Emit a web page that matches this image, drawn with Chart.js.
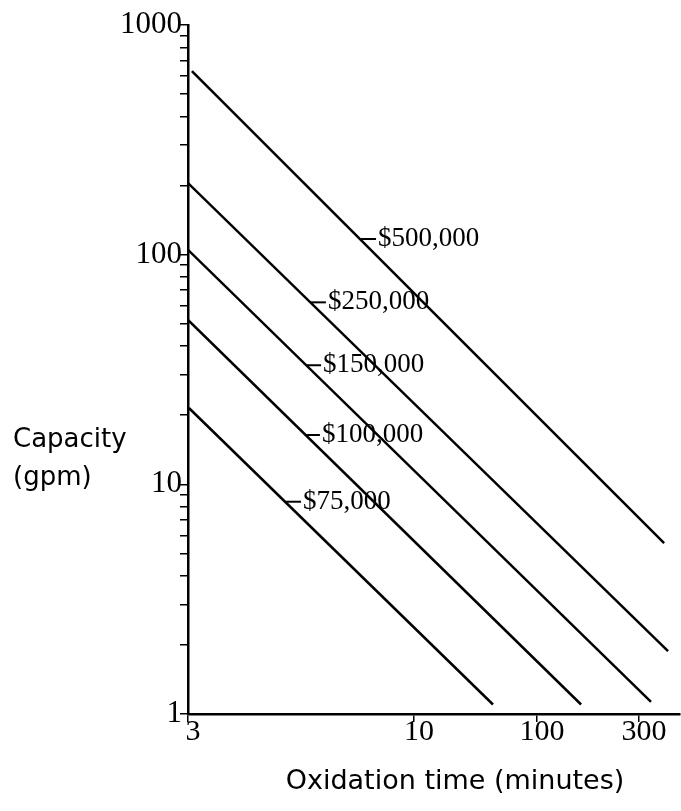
<!DOCTYPE html>
<html>
<head>
<meta charset="utf-8">
<script src="https://cdn.jsdelivr.net/npm/chart.js@4.4.1/dist/chart.umd.min.js"></script>
<style>
  html, body { margin: 0; padding: 0; background: #fff; }
  #wrap { width: 681px; height: 811px; }
</style>
</head>
<body>
<div id="wrap"><canvas id="costChart" width="681" height="811"></canvas></div>
<script>
// cost lines (x in axis units, y = capacity in gpm)
const costLabels = ["$500,000", "$250,000", "$150,000", "$100,000", "$75,000"];
const startX = [0.017, 0, 0, 0, 0.004];
const startCap = [630, 205, 105, 52, 21.5];
const endX = [2.07, 2.087, 2.013, 1.709, 1.326];
const endCap = [5.55, 1.88, 1.13, 1.1, 1.1];
// where each label's leader dash touches its line
const labelX = [0.748, 0.53, 0.509, 0.504, 0.422];
const labelCap = [117, 62, 33, 16.4, 8.4];

// x axis tick marks (positions along the axis) and their printed labels
const xTickPos = [0, 0.983, 1.517, 1.961];
const xTickLabels = ["3", "10", "100", "300"];
const xMax = 2.139;

// y axis: labelled decades plus minor marks
const yDecades = [1, 10, 100, 1000];
const yMinorSteps = [2, 3, 4, 5, 6, 7, 8, 9];

const yTickVals = [];
yDecades.forEach(d => {
  yTickVals.push(d);
  if (d < 1000) yMinorSteps.forEach(s => yTickVals.push(d * s));
});

const datasets = costLabels.map((lab, i) => ({
  label: lab,
  data: [{x: startX[i], y: startCap[i]}, {x: endX[i], y: endCap[i]}],
  borderColor: "#000",
  borderWidth: 2.5,
  pointRadius: 0,
  fill: false
}));

const annotate = {
  id: "annotate",
  afterDatasetsDraw(chart) {
    const ctx = chart.ctx;
    const xs = chart.scales.x, ys = chart.scales.y;
    ctx.save();
    ctx.strokeStyle = "#000";
    ctx.fillStyle = "#000";
    ctx.lineWidth = 2;
    ctx.font = "27px 'Liberation Serif'";
    ctx.textBaseline = "middle";
    costLabels.forEach((lab, i) => {
      const px = xs.getPixelForValue(labelX[i]);
      const py = ys.getPixelForValue(labelCap[i]);
      ctx.beginPath();
      ctx.moveTo(px + 1, py);
      ctx.lineTo(px + 16, py);
      ctx.stroke();
      ctx.fillText(lab, px + 18, py);
    });
    // axis titles
    ctx.font = "26px 'DejaVu Sans'";
    ctx.textBaseline = "alphabetic";
    ctx.textAlign = "left";
    ctx.fillText("Capacity", 13, 447);
    ctx.fillText("(gpm)", 13, 485);
    ctx.font = "27px 'DejaVu Sans'";
    ctx.textAlign = "center";
    ctx.fillText("Oxidation time (minutes)", 455, 789);
    ctx.restore();
  }
};

new Chart(document.getElementById("costChart"), {
  type: "line",
  data: { datasets: datasets },
  options: {
    responsive: false,
    animation: false,
    layout: { padding: { top: 25, right: 1, left: 0, bottom: 0 } },
    plugins: { legend: { display: false }, tooltip: { enabled: false } },
    scales: {
      x: {
        type: "linear",
        min: 0,
        max: xMax,
        afterBuildTicks: s => { s.ticks = xTickPos.map(v => ({ value: v })); },
        afterFit: s => { s.height = 97; },
        ticks: {
          autoSkip: false,
          maxRotation: 0,
          padding: -5,
          labelOffset: 5,
          color: "#000",
          font: { family: "'Liberation Serif'", size: 30, lineHeight: 1 },
          callback: (v, i) => xTickLabels[i]
        },
        grid: { drawOnChartArea: false, tickLength: 8, color: "#000", lineWidth: 1.5 },
        border: { display: true, color: "#000", width: 2.5 }
      },
      y: {
        type: "logarithmic",
        min: 1,
        max: 1000,
        afterBuildTicks: s => { s.ticks = yTickVals.map(v => ({ value: v })); },
        afterFit: s => { s.width = 188; },
        ticks: {
          autoSkip: false,
          padding: -2,
          color: "#000",
          font: { family: "'Liberation Serif'", size: 31, lineHeight: 1 },
          callback: v => (yDecades.includes(v) ? String(v) : "")
        },
        grid: { drawOnChartArea: false, tickLength: 8, color: "#000", lineWidth: 1.5 },
        border: { display: true, color: "#000", width: 2.5 }
      }
    }
  },
  plugins: [annotate]
});
</script>
</body>
</html>
